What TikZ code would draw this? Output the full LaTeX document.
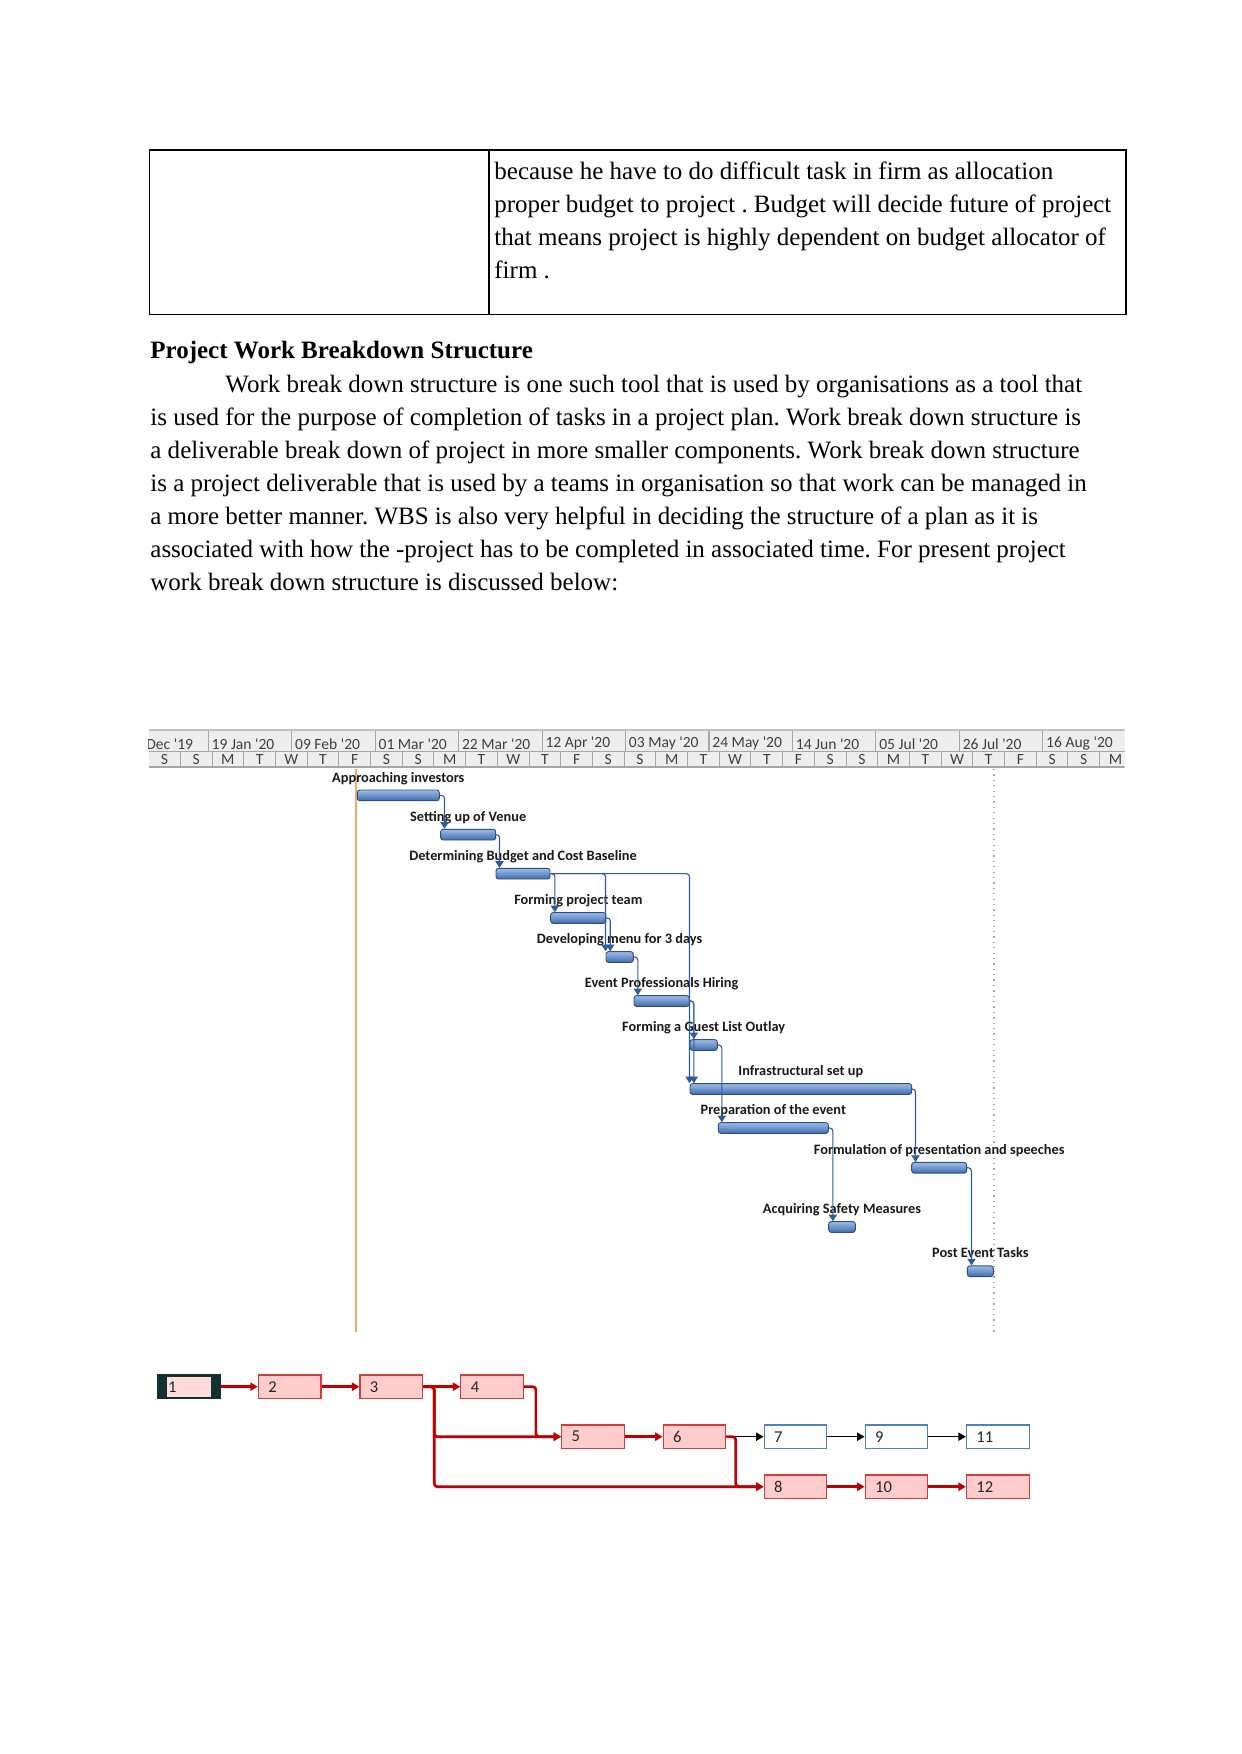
\documentclass[tikz,border=0pt]{standalone}
\usepackage{fontspec}
\setmainfont{Liberation Serif}
\newfontfamily\ganttfont{Carlito}
\usetikzlibrary{arrows.meta,positioning,calc}
\definecolor{barlight}{HTML}{9EBCE6}
\definecolor{bardark}{HTML}{3F6CB0}
\definecolor{barline}{HTML}{2F4F80}
\definecolor{linkblue}{HTML}{2E5C9A}
\definecolor{todayline}{HTML}{F2A971}
\definecolor{hdrfill}{HTML}{EDEDED}
\definecolor{hdrline}{HTML}{A6A6A6}
\definecolor{hdrtext}{HTML}{404040}
\definecolor{critred}{HTML}{C00000}
\definecolor{critfill}{HTML}{FFCCCC}
\definecolor{critdraw}{HTML}{D23C3C}
\definecolor{normblue}{HTML}{4F81BD}
\definecolor{seldark}{HTML}{133030}
\newdimen\pxu \pxu=0.48178pt
\frenchspacing

\begin{document}
\begin{tikzpicture}[x=0.16933mm, y=-0.16933mm,
  txt/.style={anchor=base west, inner sep=0, font=\fontsize{12.04}{14}\selectfont},
  cell/.style={draw=black, line width=0.5pt},
  hdrgrid/.style={draw=hdrline, line width=0.5pt},
  major/.style={anchor=west, inner sep=0, text=hdrtext, font=\ganttfont\fontsize{7.5}{9}\selectfont},
  minor/.style={inner sep=0, text=hdrtext, font=\ganttfont\fontsize{7.5}{9}\selectfont},
  bar/.style={rectangle, rounded corners=1.2pt, draw=barline, line width=0.45pt, top color=barlight, bottom color=bardark, minimum height=10.7\pxu, inner sep=0},
  task/.style={inner sep=0, text height=5pt, text depth=1.4pt, font=\ganttfont\bfseries\fontsize{6.9}{8}\selectfont, text=black!90},
  link/.style={draw=linkblue, line width=0.55pt, rounded corners=1.5pt, -{Triangle[width=4pt,length=3.2pt]}},
  crit/.style={draw=critdraw, fill=critfill, line width=0.6pt, minimum width=62.7\pxu, minimum height=23.3\pxu, inner xsep=10\pxu, inner ysep=0, text width=42.7\pxu, align=left, font=\ganttfont\fontsize{8}{9}\selectfont, text=black!85},
  free/.style={crit, draw=normblue, fill=white},
  critlink/.style={draw=critred, line width=1.3pt, rounded corners=1.5pt, -{Triangle[width=4pt,length=3.6pt]}},
  freelink/.style={draw=black, line width=0.5pt, -{Triangle[width=4pt,length=3.6pt]}},
  node distance=2pt
]
\useasboundingbox (0,0) rectangle (1241,1754);

% table row carried over
\draw[cell] (149.6,150) rectangle (1126,314.3);
\draw[cell] (489,150) -- (489,314.3);
\node[txt] (cell1) at (494,179.7) {because he have to do difficult task in firm as allocation};
\node[txt] (cell2) at (494,212.6) {proper budget to project . Budget will decide future of project};
\node[txt] (cell3) at (494,245.5) {that means project is highly dependent on budget allocator of};
\node[txt] (cell4) at (494,278.4) {firm .};

% heading and paragraph
\node[txt, font=\bfseries\fontsize{12.04}{14}\selectfont] (title) at (150,358.8) {Project Work Breakdown Structure};
\node[txt] (para1) at (225,392.3) {Work break down structure is one such tool that is used by organisations as a tool that};
\node[txt] (para2) at (150,425.2) {is used for the purpose of completion of tasks in a project plan. Work break down structure is};
\node[txt] (para3) at (150,458.2) {a deliverable break down of project in more smaller components. Work break down structure};
\node[txt] (para4) at (150,491.1) {is a project deliverable that is used by a teams in organisation so that work can be managed in};
\node[txt] (para5) at (150,524.1) {a more better manner. WBS is also very helpful in deciding the structure of a plan as it is};
\node[txt] (para6) at (150,557.0) {associated with how the -project has to be completed in associated time. For present project};
\node[txt] (para7) at (150,590.0) {work break down structure is discussed below:};

% timescale
\begin{scope}
\clip (148.6,728) rectangle (1124.6,769);
\fill[hdrfill] (148.6,731) rectangle (1124.6,767);
\fill[hdrline!70] (148.6,728.5) rectangle (1124.6,731);
\draw[hdrgrid] (148.6,751.7) -- (1124.6,751.7);
\draw[hdrline, line width=1pt] (148.6,767.3) -- (1124.6,767.3);
\foreach \k in {0,...,10} \draw[hdrgrid] (208.3+83.45*\k,731) -- (208.3+83.45*\k,751.7);
\foreach \k in {0,...,30} \draw[hdrgrid] (180.35+31.7*\k,751.7) -- (180.35+31.7*\k,767);
\node[major] (mdec) at (146,743.8) {Dec \textquotesingle19};
\foreach \lab [count=\k from 0] in {19 Jan \textquotesingle20, 09 Feb \textquotesingle20, 01 Mar \textquotesingle20, 22 Mar \textquotesingle20, 12 Apr \textquotesingle20, 03 May \textquotesingle20, 24 May \textquotesingle20, 14 Jun \textquotesingle20, 05 Jul \textquotesingle20, 26 Jul \textquotesingle20, 16 Aug \textquotesingle20}
  \node[major] (m\k) at (211.3+83.45*\k,743.8) {\lab};
\foreach \d [count=\k from 0] in {S,S,M,T,W,T,F,S,S,M,T,W,T,F,S,S,M,T,W,T,F,S,S,M,T,W,T,F,S,S,M}
  \node[minor] (d\k) at (164.5+31.7*\k,759.6) {\d};
\end{scope}

% status lines
\draw[todayline, line width=0.8pt] (355.7,769) -- (355.7,1331.6);
\draw[gray!70, dotted, line width=0.6pt] (994,769) -- (994,1331.6);

% task bars
\node[bar, minimum width=82\pxu] (invest) at (398.3,795.35) {};
\node[bar, minimum width=55\pxu] (venue) at (468.2,834.65) {};
\node[bar, minimum width=54\pxu] (budget) at (523,873.65) {};
\node[bar, minimum width=55.3\pxu] (team) at (578.35,918) {};
\node[bar, minimum width=27.3\pxu] (menu) at (619.65,957) {};
\node[bar, minimum width=55.3\pxu] (hiring) at (661.65,1001) {};
\node[bar, minimum width=27.3\pxu] (guest) at (703.65,1045) {};
\node[bar, minimum width=221.7\pxu] (infra) at (800.85,1089) {};
\node[bar, minimum width=110\pxu] (prep) at (773.3,1128) {};
\node[bar, minimum width=55\pxu] (speech) at (939.2,1167.8) {};
\node[bar, minimum width=26.6\pxu] (safety) at (842,1227) {};
\node[bar, minimum width=26\pxu] (post) at (980.3,1271.2) {};

\node[task, above=of invest] (investlbl) {Approaching investors};
\node[task, above=of venue] (venuelbl) {Setting up of Venue};
\node[task, above=of budget] (budgetlbl) {Determining Budget and Cost Baseline};
\node[task, above=of team] (teamlbl) {Forming project team};
\node[task, above=of menu] (menulbl) {Developing menu for 3 days};
\node[task, above=of hiring] (hiringlbl) {Event Professionals Hiring};
\node[task, above=of guest] (guestlbl) {Forming a Guest List Outlay};
\node[task, above=of infra] (infralbl) {Infrastructural set up};
\node[task, above=of prep] (preplbl) {Preparation of the event};
\node[task, above=of speech] (speechlbl) {Formulation of presentation and speeches};
\node[task, above=of safety] (safetylbl) {Acquiring Safety Measures};
\node[task, above=of post] (postlbl) {Post Event Tasks};

\draw[link] (invest.east) -| ($(venue.north west)+(4.3,0)$);
\draw[link] (venue.east) -| ($(budget.north west)+(4,0)$);
\draw[link] (budget.east) -| ($(team.north west)+(4.6,0)$);
\draw[link] (budget.east) -| (menu.north west);
\draw[link] (budget.east) -| (infra.north west);
\draw[link] (team.east) -| ($(menu.north west)+(4.7,0)$);
\draw[link] (menu.east) -| ($(hiring.north west)+(4.3,0)$);
\draw[link] (hiring.east) -| ($(guest.north west)+(4.3,0)$);
\draw[link] (hiring.east) -| ($(infra.north west)+(4.3,0)$);
\draw[link] (guest.east) -| ($(prep.north west)+(4,0)$);
\draw[link] (infra.east) -| ($(speech.north west)+(4.3,0)$);
\draw[link] (prep.east) -| ($(safety.north west)+(4.6,0)$);
\draw[link] (speech.east) -| ($(post.north west)+(4.7,0)$);

% network diagram
\node[crit, fill=seldark, draw=seldark] (n1) at (188.7,1386.7) {};
\node[fill=critfill!70!white, minimum width=44\pxu, minimum height=20\pxu, inner xsep=1.5\pxu, inner ysep=0, text width=41\pxu, align=left, font=\ganttfont\fontsize{8}{9}\selectfont, text=black!85] (n1in) at (n1.center) {1};
\node[crit] (n2) at (289.7,1386.7) {2};
\node[crit] (n3) at (391.3,1386.7) {3};
\node[crit] (n4) at (492.2,1386.7) {4};
\node[crit] (n5) at (593,1436.7) {5};
\node[crit] (n6) at (694.5,1436.7) {6};
\node[free] (n7) at (795.5,1436.7) {7};
\node[free] (n9) at (896.5,1436.7) {9};
\node[free] (n11) at (997.8,1436.7) {11};
\node[crit] (n8) at (795.5,1486.7) {8};
\node[crit] (n10) at (896.5,1486.7) {10};
\node[crit] (n12) at (997.8,1486.7) {12};

\draw[freelink] (n6.east) -- (n7.west);
\draw[freelink] (n7.east) -- (n9.west);
\draw[freelink] (n9.east) -- (n11.west);
\draw[critlink] (n1.east) -- (n2.west);
\draw[critlink] (n2.east) -- (n3.west);
\draw[critlink] (n3.east) -- (n4.west);
\draw[critlink] (n3.east) -- ++(11,0) |- (n5.west);
\draw[critlink] (n3.east) -- ++(11,0) |- (n8.west);
\draw[critlink] (n4.east) -- ++(11.7,0) |- (n5.west);
\draw[critlink] (n5.east) -- (n6.west);
\draw[critlink] (n6.east) -- ++(9.3,0) |- (n8.west);
\draw[critlink] (n8.east) -- (n10.west);
\draw[critlink] (n10.east) -- (n12.west);
\end{tikzpicture}
\end{document}
